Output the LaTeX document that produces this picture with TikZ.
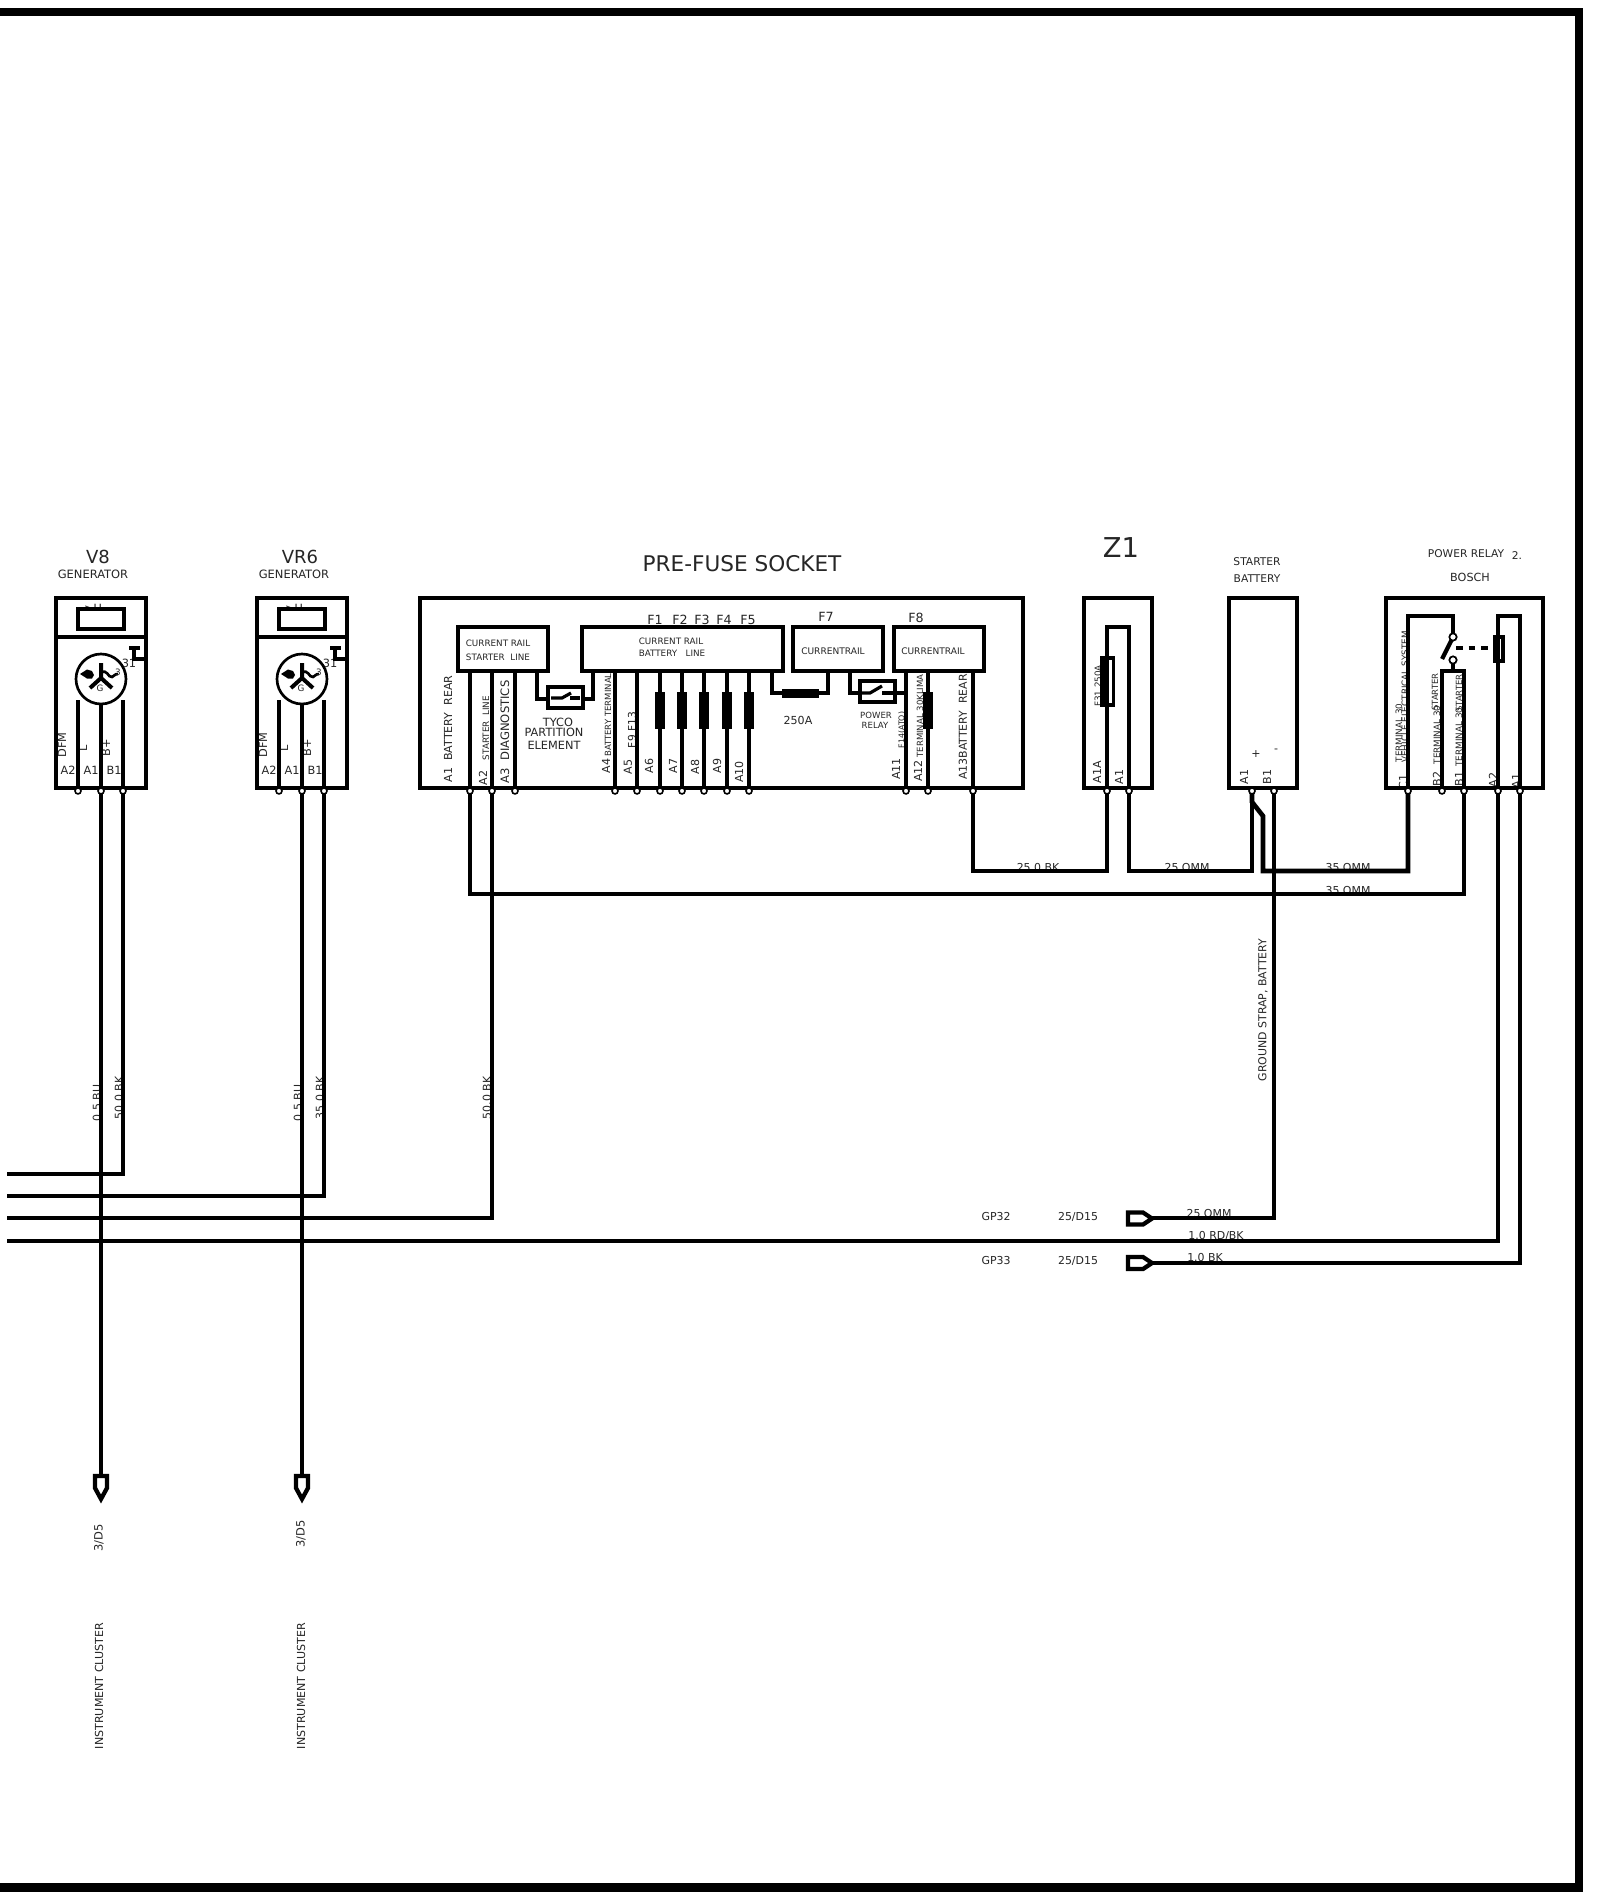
\documentclass[tikz,border=0pt]{standalone}
\usepackage{fontspec}
\setmainfont{DejaVu Sans}
\newcommand{\lb}[5][0]{\node[lbl,rotate=#1] (#2) at (#3) {\fontsize{#4}{#4}\selectfont #5};}
\tikzset{
  lbl/.style={inner sep=0pt,outer sep=0pt,text=black!85,anchor=center},
  wire/.style={line width=3.5pt,line join=miter,line cap=butt},
  boxl/.style={line width=3.7pt,line join=miter,fill=white},
  boxo/.style={line width=3.7pt,line join=miter},
  fuse/.style={fill=black,draw=none},
  frm/.style={line width=6.2pt,line cap=butt,line join=miter},
  gp/.style={line width=3.2pt,fill=white,line join=miter}
}
\begin{document}
\begin{tikzpicture}[x=0.75pt,y=-0.75pt]
\useasboundingbox (0,0) rectangle (1600,1901);
\fill[white] (0,0) rectangle (1600,1901);
% named pins and wire ends
\foreach \n/\x in {vL/78,vA/101,vB/123,wL/279,wA/302,wB/324,
  pa/470,pb/492,pc/515,pd/615,pe/637,pf/660,pg/682,ph/704,pi/727,pj/749,pk/906,pl/928,pm/973,
  za/1107,zb/1129,ba/1252,bb/1274,rc/1408,rd/1442,re/1464,rf/1498,rg/1520}
  {\coordinate (\n) at (\x,788);}
\coordinate (lA) at (7,1174); \coordinate (lB) at (7,1196);
\coordinate (lC) at (7,1218); \coordinate (lD) at (7,1241);
\coordinate (busa) at (1000,871); \coordinate (busb) at (1000,894);
\coordinate (kink1) at (1252,802); \coordinate (kink2) at (1263,816);
\coordinate (g32) at (1150,1218); \coordinate (g33) at (1150,1263);
\coordinate (arA) at (101,1474); \coordinate (arB) at (302,1474);
% texts (under the lines)
\lb{t1}{98,557}{13.5pt}{V8}
\lb{t2}{93,574}{8.6pt}{GENERATOR}
\lb{t3}{300,557}{13.5pt}{VR6}
\lb{t4}{294,574}{8.6pt}{GENERATOR}
\lb{t5}{742,564}{16.2pt}{PRE-FUSE SOCKET}
\lb{t6}{1121,548}{20.5pt}{Z1}
\lb{t7}{1257,562}{8pt}{STARTER}
\lb{t8}{1257,579}{8pt}{BATTERY}
\lb{t9}{1466,554}{8pt}{POWER RELAY}
\lb{t10}{1517,556}{8pt}{2.}
\lb{t11}{1470,577}{8.4pt}{BOSCH}
% generator labels
\foreach \d/\s in {0/a,201/b}{
  \begin{scope}[shift={(\d,0)}]
  \lb{g1\s}{93,608}{8.5pt}{>U}
  \lb{g2\s}{129,663}{8.5pt}{31}
  \lb[90]{g3\s}{62,745}{8.5pt}{DFM}
  \lb[90]{g4\s}{83,748}{8.5pt}{L}
  \lb[90]{g5\s}{106,748}{8.5pt}{B+}
  \lb{g6\s}{68,770}{8.5pt}{A2}
  \lb{g7\s}{91,770}{8.5pt}{A1}
  \lb{g8\s}{114,770}{8.5pt}{B1}
  \end{scope}}
% fuse socket labels
\lb[90]{p1}{448,729}{8.3pt}{A1\ \ BATTERY\ \ REAR}
\lb[90]{p2}{483,778}{8.3pt}{A2}
\lb[90]{p3}{486,728}{6.6pt}{STARTER\ \ LINE}
\lb[90]{p4}{505,732}{8.7pt}{A3\ \ DIAGNOSTICS}
\lb{p5}{558,722}{8.5pt}{TYCO}
\lb{p6}{554,732}{8.5pt}{PARTITION}
\lb{p7}{554,745}{8.5pt}{ELEMENT}
\lb{p8}{498,643}{6.6pt}{CURRENT RAIL}
\lb{p9}{498,657}{6.6pt}{STARTER\ \ LINE}
\lb{p10}{671,641}{6.6pt}{CURRENT RAIL}
\lb{p11}{672,653}{6.6pt}{BATTERY\ \ \ LINE}
\lb{p12}{833,651}{6.8pt}{CURRENTRAIL}
\lb{p13}{933,651}{6.8pt}{CURRENTRAIL}
\lb[90]{p14}{606,766}{8.3pt}{A4}
\lb[90]{p15}{608,715}{6.4pt}{BATTERY TERMINAL}
\lb[90]{p16}{628,767}{8.3pt}{A5}
\lb[90]{p17}{632,730}{8pt}{F9 F13}
\lb[90]{p18}{649,766}{8.3pt}{A6}
\lb[90]{p19}{673,766}{8.3pt}{A7}
\lb[90]{p20}{695,767}{8.3pt}{A8}
\lb[90]{p21}{717,766}{8.3pt}{A9}
\lb[90]{p22}{739,772}{8.3pt}{A10}
\lb[90]{p23}{896,769}{8.3pt}{A11}
\lb[90]{p24}{918,771}{8.3pt}{A12}
\lb[90]{p25}{920,716}{6.4pt}{TERMINAL 30KLIMA}
\lb[90]{p26}{902,730}{5.9pt}{F14(ATO)}
\lb[90]{p27}{963,727}{8.2pt}{A13BATTERY\ \ REAR}
\lb{p28}{798,720}{8.3pt}{250A}
\lb{p29}{876,715}{6.4pt}{POWER}
\lb{p30}{875,725}{6.4pt}{RELAY}
\lb{f1}{655,620}{9.5pt}{F1}
\lb{f2}{680,620}{9.5pt}{F2}
\lb{f3}{702,620}{9.5pt}{F3}
\lb{f4}{724,620}{9.5pt}{F4}
\lb{f5}{748,620}{9.5pt}{F5}
\lb{f7}{826,617}{9.5pt}{F7}
\lb{f8}{916,618}{9.5pt}{F8}
% Z1, battery, relay labels
\lb[90]{z1}{1098,686}{6.6pt}{F31 250A}
\lb[90]{z2}{1097,772}{8.3pt}{A1A}
\lb[90]{z3}{1119,777}{8.3pt}{A1}
\lb[90]{b1}{1244,777}{8.3pt}{A1}
\lb[90]{b2}{1267,777}{8.3pt}{B1}
\lb{b3}{1256,754}{8.3pt}{+}
\lb{b4}{1276,751}{8.3pt}{-}
\lb[90]{r1}{1403,782}{8.3pt}{C1}
\lb[90]{r2}{1437,779}{8.3pt}{B2}
\lb[90]{r3}{1459,779}{8.3pt}{B1}
\lb[90]{r4}{1493,780}{8.3pt}{A2}
\lb[90]{r5}{1516,781}{8.3pt}{A1}
\lb[90]{r6}{1399,733}{6.6pt}{TERMINAL 30}
\lb[90]{r7}{1405,697}{6.6pt}{VEHICLE ELECTRICAL SYSTEM}
\lb[90]{r8}{1437,735}{6.6pt}{TERMINAL 30}
\lb[90]{r9}{1435,692}{6.4pt}{STARTER}
\lb[90]{r10}{1459,737}{6.6pt}{TERMINAL 30}
\lb[90]{r11}{1459,693}{6.4pt}{STARTER}
% wire labels
\lb[90]{w1}{97,1103}{8.2pt}{0.5 BU}
\lb[90]{w2}{119,1098}{8.2pt}{50.0 BK}
\lb[90]{w3}{298,1103}{8.2pt}{0.5 BU}
\lb[90]{w4}{320,1098}{8.2pt}{35.0 BK}
\lb[90]{w5}{487,1098}{8.2pt}{50.0 BK}
\lb{w6}{1038,868}{8.2pt}{25.0 BK}
\lb{w7}{1187,868}{8.2pt}{25 OMM}
\lb{w8}{1348,868}{8.2pt}{35 OMM}
\lb{w9}{1348,891}{8.2pt}{35 OMM}
\lb[90]{w10}{1263,1010}{8.2pt}{GROUND STRAP, BATTERY}
\lb{w11}{996,1217}{8.2pt}{GP32}
\lb{w12}{1078,1217}{8.2pt}{25/D15}
\lb{w13}{996,1261}{8.2pt}{GP33}
\lb{w14}{1078,1261}{8.2pt}{25/D15}
\lb{w15}{1209,1214}{8.2pt}{25 OMM}
\lb{w16}{1216,1236}{8.2pt}{1.0 RD/BK}
\lb{w17}{1205,1258}{8.2pt}{1.0 BK}
\lb[90]{w18}{99,1538}{8.6pt}{3/D5}
\lb[90]{w19}{301,1534}{8.6pt}{3/D5}
\lb[90]{w20}{99,1686}{8.3pt}{INSTRUMENT CLUSTER}
\lb[90]{w21}{301,1686}{8.3pt}{INSTRUMENT CLUSTER}
% frame
\draw[frm] (0,12) -- (1579,12) -- (1579,1887.5) -- (0,1887.5);
% generators
\foreach \d in {0,201}{
\begin{scope}[shift={(\d,0)}]
  \draw[boxo] (56,598) rectangle (146,788);
  \draw[boxo,line width=3pt] (56,637) -- (146,637);
  \draw[boxl,line width=3.4pt] (78,609) rectangle (124,629);
  \draw[boxo,line width=3pt] (146,659) -- (134,659) -- (134,648);
  \draw[boxo] (129,648) -- (140,648);
  \draw[wire,line width=3.3pt] (78,700) -- (78,788);
  \draw[wire,line width=3.3pt] (123,700) -- (123,788);
  \draw[wire,line width=3.3pt] (101,700) -- (101,788);
  \draw[line width=2pt,fill=white] (101,679) circle (25);
  \draw[line width=3pt] (101,663) -- (101,678) -- (90,688);
  \draw[line width=3pt] (101,678) -- (112,688);
  \fill (80,674) -- (87,669.5) -- (92,671) -- (94,675) -- (92,678.5) -- (87,678.5) -- cycle;
  \draw[line width=2pt] (101,673) .. controls (107,668) and (108,678) .. (112,677) .. controls (115,676) and (114,674) .. (118,674);
  \lb{gg\d}{100,688}{6.6pt}{G}
  \lb{gh\d}{118,672}{6.6pt}{3}
\end{scope}}
% upper wires inside fuse socket
\draw[boxo] (420,598) rectangle (1023,788);
\draw[wire] (537,671) |- (548,699);
\draw[wire] (593,671) |- (583,699);
\draw[wire] (772,671) |- (782,693) -- (818,693) -| (828,671);
\draw[wire] (850,671) |- (860,693);
\draw[boxo,line width=3.3pt] (860,681) rectangle (895,702);
\draw[boxo,line width=3.3pt] (548,687) rectangle (583,708);
\draw[line width=2.4pt] (551,698) -- (562,698) -- (571,693);
\draw[line width=2.4pt] (570,698) -- (580,698);
\draw[line width=2.4pt] (860,693) -- (870,693) -- (882,686);
\draw[line width=2.4pt] (882,693) -- (906,693);
\foreach \c in {pa,pb,pc,pd,pe,pf,pg,ph,pi,pj,pk,pl,pm}{\draw[wire] (\c) -- (\c |- 0,671);}
\fill[fuse] (782,688.5) rectangle (819,697.5);
\foreach \c in {pf,pg,ph,pi,pj,pl}{\fill[fuse] ([xshift=-3.6pt]\c |- 0,692) rectangle ([xshift=3.6pt]\c |- 0,729);}
\draw[boxo] (458,627) rectangle (548,671);
\draw[boxo] (582,627) rectangle (783,671);
\draw[boxo] (793,627) rectangle (883,671);
\draw[boxo] (894,627) rectangle (984,671);
% Z1
\draw[boxo] (1084,598) rectangle (1152,788);
\draw[wire] (za) |- (zb |- 0,627) -- (zb);
\draw[boxo,line width=2.8pt] (1102,658) rectangle (1113.5,705);
\fill (1102,658) rectangle (1108.5,705);
% battery
\draw[boxo] (1229,598) rectangle (1297,788);
% relay
\draw[boxo] (1386,598) rectangle (1543,788);
\draw[wire] (rc) |- (1453,616) -- (1453,636);
\draw[wire] (1453,660) -- (1453,671);
\draw[wire] (rd) |- (1453,671) -| (re);
\draw[wire] (rf) |- (1520,616) -- (rg);
\draw[line width=3.2pt] (1453,637) -- (1442,659);
\draw[line width=3.6pt,dash pattern=on 5pt off 4.5pt] (1456,648) -- (1496,648);
\draw[line width=2.6pt,fill=white] (1495,637) rectangle (1503,661);
\draw[wire] (1498,637) -- (1498,661);
\node[circle,draw=black,fill=white,line width=1.3pt,minimum size=5.5pt,inner sep=0pt] (sw1) at (1453,637) {};
\node[circle,draw=black,fill=white,line width=1.3pt,minimum size=5.5pt,inner sep=0pt] (sw2) at (1453,660) {};
% external wires
\draw[wire] (vA) -- (arA);
\draw[wire] (wA) -- (arB);
\draw[wire] (vB) |- (lA);
\draw[wire] (wB) |- (lB);
\draw[wire] (pb) |- (lC);
\draw[wire] (pa) |- (re |- busb) -- (re);
\draw[wire] (pm) |- (za |- busa) -- (za);
\draw[wire] (zb) |- (ba |- busa) -- (ba);
\draw[wire] (ba) -- (kink1) -- (kink2) |- (rc |- busa) -- (rc);
\draw[wire] (bb) |- (g32);
\draw[wire] (rf) |- (lD);
\draw[wire] (rg) |- (g33);
% ground connectors and pointers
\draw[gp] (1128,1212.5) -- (1143,1212.5) -- (1152,1218.5) -- (1143,1224.5) -- (1128,1224.5) -- cycle;
\draw[gp] (1128,1257) -- (1143,1257) -- (1152,1263) -- (1143,1269) -- (1128,1269) -- cycle;
\draw[gp] (95,1476) -- (107,1476) -- (107,1488) -- (101,1499) -- (95,1488) -- cycle;
\draw[gp] (296,1476) -- (308,1476) -- (308,1488) -- (302,1499) -- (296,1488) -- cycle;
% pins
\foreach \c in {vL,vA,vB,wL,wA,wB,pa,pb,pc,pd,pe,pf,pg,ph,pi,pj,pk,pl,pm,za,zb,ba,bb,rc,rd,re,rf,rg}
  {\draw[line width=1.2pt,fill=white] ([yshift=-2.2pt]\c) circle (3);}
\end{tikzpicture}
\end{document}
